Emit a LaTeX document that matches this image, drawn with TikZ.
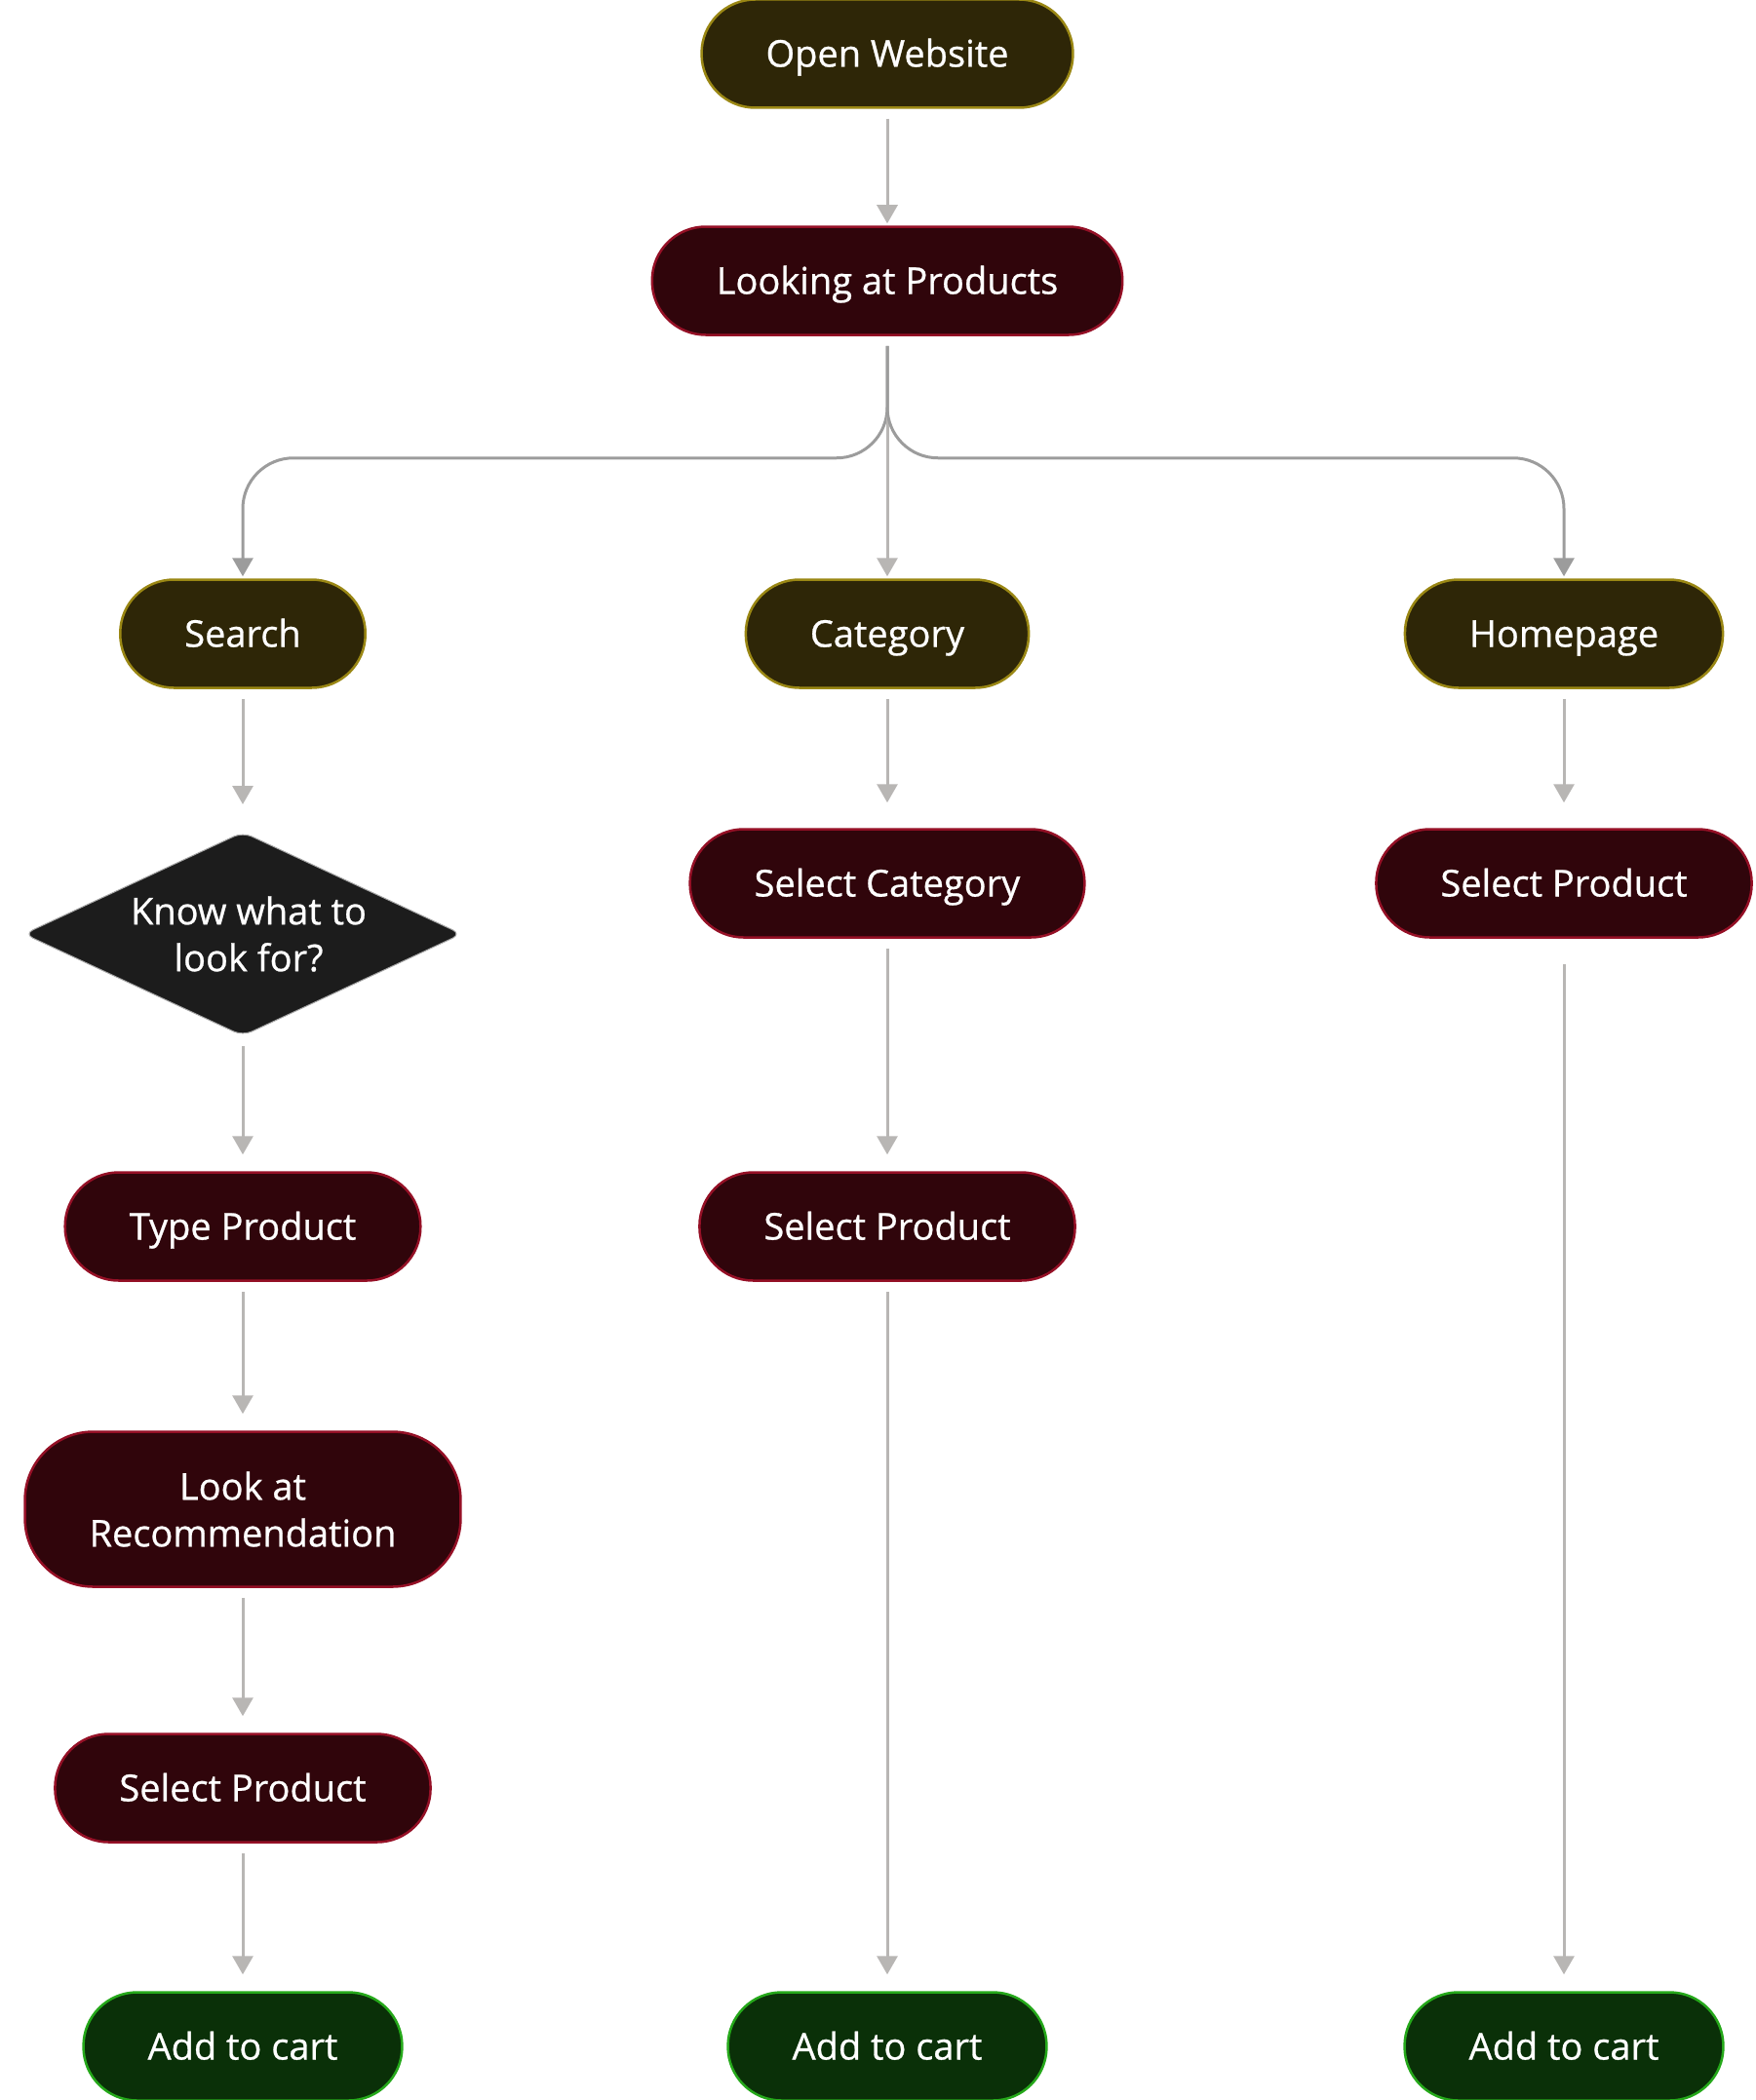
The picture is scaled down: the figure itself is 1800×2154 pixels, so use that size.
\documentclass[tikz,border=0pt]{standalone}
\usepackage{fontspec}
\setmainfont{Open Sans}[FakeBold=0.7]
\usetikzlibrary{positioning, arrows.meta, shapes.geometric}

\definecolor{olivefill}{HTML}{2E2607}
\definecolor{oliveline}{HTML}{9A8714}
\definecolor{wine}{HTML}{30050B}
\definecolor{wineline}{HTML}{951026}
\definecolor{leaf}{HTML}{0A3008}
\definecolor{leafline}{HTML}{25A81A}
\definecolor{askfill}{HTML}{1C1C1C}
\definecolor{flowgray}{HTML}{B8B6B4}
\definecolor{branchgray}{HTML}{9C9C9C}

\begin{document}
\begin{tikzpicture}[x=1pt, y=-1pt,
    pill/.style={rectangle, rounded corners=55pt, minimum height=111pt, inner xsep=66pt,
      text height=30pt, text depth=3pt,
      text=white, font=\fontsize{38}{48}\selectfont, line width=2.5pt, align=center},
    entry/.style={pill, fill=olivefill, draw=oliveline},
    stepbox/.style={pill, fill=wine, draw=wineline},
    cart/.style={pill, fill=leaf, draw=leafline},
    ask/.style={diamond, aspect=2.15, minimum width=449pt, minimum height=209pt, inner sep=0pt,
      rounded corners=10pt, fill=askfill, draw=gray!70, line width=1pt,
      text=white, font=\fontsize{38}{48}\selectfont, align=center},
    flow/.style={draw=flowgray, line width=3pt, -{Triangle[length=19pt,width=21pt]},
      shorten <=10pt, shorten >=17pt}]
    \useasboundingbox (0,0) rectangle (1800,2154);

    % top of the flow
    \node[entry] (open) at (910,55) {Open Website};
    \node[stepbox] (look) at (910,288) {Looking at Products};

    % three ways in
    \node[entry] (search) at (249,650) {Search};
    \node[entry] (cat) at (910,650) {Category};
    \node[entry] (home) at (1604,650) {Homepage};

    % search column
    \node[ask] (know) at (249,958) {\hspace*{12pt}Know what to\\\hspace*{12pt}look for?};
    \node[stepbox] (type) at (249,1258) {Type Product};
    \node[stepbox, text height={}, text depth={}, minimum height=159pt, rounded corners=70pt] (rec) at (249,1548) {Look at\\Recommendation};
    \node[stepbox] (pickl) at (249,1834) {Select Product};
    \node[cart] (cartl) at (249,2099) {Add to cart};

    % category column
    \node[stepbox] (selcat) at (910,906) {Select Category};
    \node[stepbox] (pickm) at (910,1258) {Select Product};
    \node[cart] (cartm) at (910,2099) {Add to cart};

    % homepage column
    \node[stepbox] (pickr) at (1604,906) {Select Product};
    \node[cart] (cartr) at (1604,2099) {Add to cart};

    \draw[flow, shorten >=2pt] (open) -- (look);
    \draw[flow, draw=branchgray, shorten >=2pt, rounded corners=52pt] (look.south) -- ++(0,125) -| (search.north);
    \draw[flow, shorten >=2pt] (look) -- (cat);
    \draw[flow, draw=branchgray, shorten >=2pt, rounded corners=52pt] (look.south) -- ++(0,125) -| (home.north);

    \draw[flow, shorten >=28pt] (search) -- (know);
    \draw[flow] (know) -- (type);
    \draw[flow] (type) -- (rec);
    \draw[flow] (rec) -- (pickl);
    \draw[flow] (pickl) -- (cartl);

    \draw[flow, shorten >=26pt] (cat) -- (selcat);
    \draw[flow] (selcat) -- (pickm);
    \draw[flow] (pickm) -- (cartm);

    \draw[flow, shorten >=26pt] (home) -- (pickr);
    \draw[flow, shorten <=26pt] (pickr) -- (cartr);
\end{tikzpicture}
\end{document}
